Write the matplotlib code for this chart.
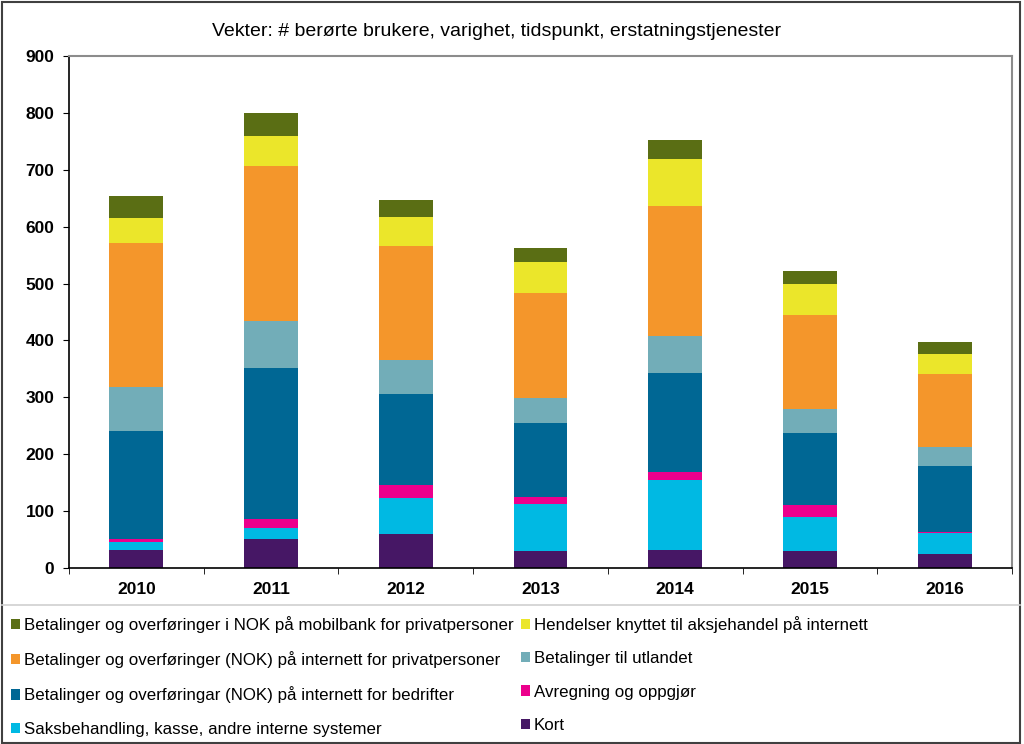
import matplotlib
matplotlib.use("Agg")
import matplotlib.pyplot as plt
from matplotlib.patches import Rectangle
from matplotlib.lines import Line2D
import numpy as np

plt.rcParams['font.family'] = ['Liberation Sans', 'DejaVu Sans']

years = ['2010', '2011', '2012', '2013', '2014', '2015', '2016']

# stacked bottom -> top
kort = [31, 51, 60, 30, 31.5, 30, 24]
saks = [15, 20, 63.5, 82, 124, 60, 37.5]
avregning = [5, 15, 23, 12, 13.5, 20, 2.5]
bedrifter = [190, 266, 159, 131, 173, 128, 114.5]
utlandet = [77, 83, 60, 43, 66, 41, 34.5]
privat_internett = [253, 272, 201, 186, 228, 166.5, 128]
aksjehandel = [45, 52, 50, 54, 83, 54.5, 36]
mobilbank = [38, 41, 30, 24, 33, 22, 21]

series = [
    ("Kort", kort, "#461765"),
    ("Saksbehandling, kasse, andre interne systemer", saks, "#00b9e3"),
    ("Avregning og oppgjør", avregning, "#ec008c"),
    ("Betalinger og overføringar (NOK) på internett for bedrifter", bedrifter, "#006794"),
    ("Betalinger til utlandet", utlandet, "#72adb8"),
    ("Betalinger og overføringer (NOK) på internett for privatpersoner", privat_internett, "#f4962b"),
    ("Hendelser knyttet til aksjehandel på internett", aksjehandel, "#ebe62a"),
    ("Betalinger og overføringer i NOK på mobilbank for privatpersoner", mobilbank, "#5a6e14"),
]

yticks = [0, 100, 200, 300, 400, 500, 600, 700, 800, 900]

fig = plt.figure(figsize=(10.24, 7.44), dpi=100)
ax = fig.add_axes([69/1024, 1 - 568/744, (1012-69)/1024, (568-56)/744])

x = np.arange(len(years))
bottom = np.zeros(len(years))
handles = {}
for name, vals, col in series:
    b = ax.bar(x, vals, width=0.4, bottom=bottom, color=col, edgecolor='none', label=name)
    handles[name] = b
    bottom += np.array(vals)

ax.set_xlim(-0.5, len(years) - 0.5)
ax.set_ylim(0, 900)
ax.set_yticks(yticks)
ax.set_yticklabels([str(v) for v in yticks], fontsize=12.5, fontweight='bold')
ax.set_xticks(x)
ax.set_xticklabels(years, fontsize=12.5, fontweight='bold')
ax.tick_params(axis='x', length=0, pad=10)
ax.tick_params(axis='y', length=4.5, direction='out', pad=6, color='black')
# category-boundary ticks on x axis
ax.set_xticks(np.arange(-0.5, len(years), 1), minor=True)
ax.tick_params(axis='x', which='minor', length=4.5, direction='out', color='black')

for s in ['left', 'bottom']:
    ax.spines[s].set_color('black')
    ax.spines[s].set_linewidth(1.2)
for s in ['top', 'right']:
    ax.spines[s].set_color('#8c8c8c')
    ax.spines[s].set_linewidth(1.5)

fig.text(497/1024, 1 - 32/744, "Vekter: # berørte brukere, varighet, tidspunkt, erstatningstjenester",
         ha='center', va='center', fontsize=14)

# separator above legend
fig.add_artist(Line2D([2/1024, 1020/1024], [1 - 605/744, 1 - 605/744], color='#d0d0d0', lw=1.2))
# figure border
fig.add_artist(Rectangle((0.002, 0.002), 0.994, 0.995, transform=fig.transFigure,
                         fill=False, edgecolor='#404040', lw=1.5))

order = [
    "Betalinger og overføringer i NOK på mobilbank for privatpersoner",
    "Betalinger og overføringer (NOK) på internett for privatpersoner",
    "Betalinger og overføringar (NOK) på internett for bedrifter",
    "Saksbehandling, kasse, andre interne systemer",
    "Hendelser knyttet til aksjehandel på internett",
    "Betalinger til utlandet",
    "Avregning og oppgjør",
    "Kort",
]
leg = fig.legend([handles[n] for n in order], order, ncol=2,
                 loc='upper left', bbox_to_anchor=(11/1024, 1 - 616/744),
                 frameon=False, fontsize=12.2, handlelength=0.55, handleheight=0.55,
                 handletextpad=0.2, columnspacing=0.45, labelspacing=1.08,
                 borderaxespad=0, borderpad=0)

fig.savefig("out.png", dpi=100)
